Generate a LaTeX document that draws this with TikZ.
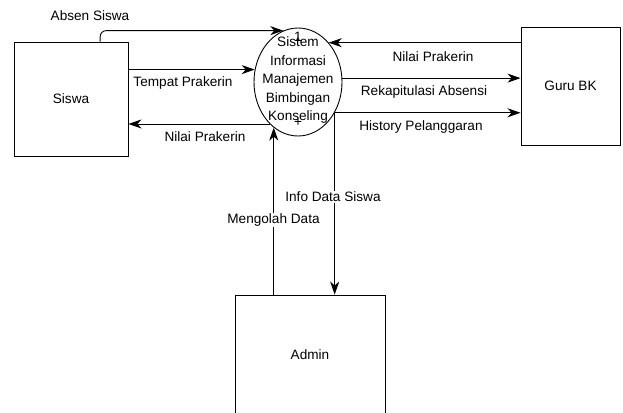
\documentclass[tikz,border=0pt]{standalone}
\usepackage{fontspec}
\setmainfont{Liberation Sans}
\usetikzlibrary{shapes.geometric,arrows.meta,calc}
\begin{document}
\begin{tikzpicture}[x=1pt,y=-1pt,
  every node/.style={font=\fontsize{13.6}{18.5}\selectfont},
  entity/.style={draw=black,line width=0.9pt,inner sep=0pt,rectangle},
  proc/.style={draw=black,line width=0.9pt,inner sep=0pt,ellipse,minimum width=88pt,minimum height=108pt},
  flow/.style={draw=black,line width=0.9pt,-{Stealth[length=13pt,width=9pt,inset=4pt]}},
  lbl/.style={inner sep=1pt},
  lblw/.style={inner sep=1pt,fill=white}]
\clip (0,0) rectangle (623,412);
\useasboundingbox (0,0) rectangle (623,412);
\fill[white] (0,0) rectangle (623,412);
% entities
\node[entity,minimum width=114pt,minimum height=114pt] (siswa) at (71,99) {Siswa};
\node[entity,minimum width=99pt,minimum height=118pt] (guru) at (570.5,86) {Guru BK};
\node[entity,minimum width=150pt,minimum height=120pt] (admin) at (310,355) {Admin};
% process
\node[proc] (ell) at (298,82) {};
\node[align=center,inner sep=0pt] (elltext) at (298,80) {Sistem\\Informasi\\Manajemen\\Bimbingan\\Konseling};
\node[inner sep=0pt] (num) at (298,37) {1};
\node[inner sep=0pt] (plus) at (298,123) {+};
% flows Siswa
\coordinate (absstart) at ($(siswa.north west)!0.754!(siswa.north east)$);
\draw[flow,rounded corners=6pt] (absstart) |- (ell.106);
\draw[flow] (ell.164.4 -| siswa.east) -- (ell.164.4);
\draw[flow] (ell.236.7) -- (ell.236.7 -| siswa.east);
% flows Guru BK
\draw[flow] (ell.52.1 -| guru.west) -- (ell.52.1);
\draw[flow] (ell.5.2) -- (ell.5.2 -| guru.west);
\draw[flow] (ell.-40.7) -- (ell.-40.7 -| guru.west);
% flows Admin
\draw[flow] (ell.242.1 |- admin.north) -- (ell.242.1);
\draw[flow] (ell.-40.7) -- (ell.-40.7 |- admin.north);
% labels
\node[lbl] (labs) at (90,16) {Absen Siswa};
\node[lbl] (ltmp) at (183,83) {Tempat Prakerin};
\node[lbl] (lnl) at (205,137) {Nilai Prakerin};
\node[lbl] (lnr) at (433,57) {Nilai Prakerin};
\node[lbl] (lrek) at (424,92) {Rekapitulasi Absensi};
\node[lbl] (lhis) at (421,127) {History Pelanggaran};
\node[lblw] (linfo) at (333,197) {Info Data Siswa};
\node[lblw] (lmeng) at (273.5,220) {Mengolah Data};
\end{tikzpicture}
\end{document}
